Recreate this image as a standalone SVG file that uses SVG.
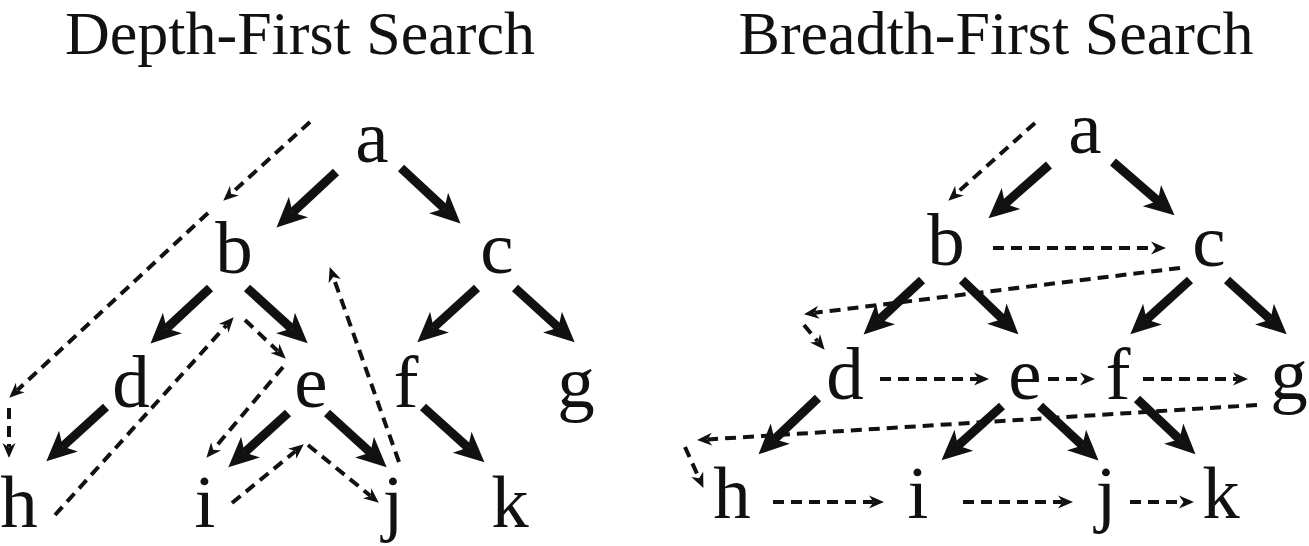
<svg xmlns="http://www.w3.org/2000/svg" width="1309" height="546" viewBox="0 0 1309 546">
<style>
text{font-family:"Liberation Serif","Times New Roman",serif;fill:#111}
.title{font-size:62px;text-anchor:middle}
.n{font-size:75px;text-anchor:middle}
.s{stroke:#111;stroke-width:9;fill:none;marker-end:url(#big)}
.d{stroke:#111;stroke-width:4;fill:none;stroke-dasharray:11 7;marker-end:url(#small)}
</style>
<defs>
<marker id="big" markerUnits="userSpaceOnUse" markerWidth="40" markerHeight="40" refX="8" refY="15" orient="auto" viewBox="0 0 40 30">
<path d="M0,1 L30,15 L0,29 L8,15 Z" fill="#111"/>
</marker>
<marker id="small" markerUnits="userSpaceOnUse" markerWidth="20" markerHeight="16" refX="4" refY="7" orient="auto" viewBox="0 0 20 14">
<path d="M0,0.5 L15,7 L0,13.5 L4.5,7 Z" fill="#111"/>
</marker>
</defs>
<text class="title" x="300" y="54">Depth-First Search</text>
<text class="title" x="996" y="54">Breadth-First Search</text>
<g id="connectors">
<line class="s" x1="336" y1="172" x2="292.6" y2="212.4"/>
<line class="s" x1="401" y1="168" x2="444.4" y2="208.4"/>
<line class="s" x1="210" y1="288" x2="166.6" y2="328.4"/>
<line class="s" x1="247" y1="288" x2="291.4" y2="328.4"/>
<line class="s" x1="477" y1="288" x2="433.6" y2="327.5"/>
<line class="s" x1="515" y1="288" x2="558.4" y2="327.5"/>
<line class="s" x1="106" y1="407" x2="62.6" y2="446.5"/>
<line class="s" x1="288" y1="413" x2="244.6" y2="452.5"/>
<line class="s" x1="327" y1="413" x2="370.4" y2="452.5"/>
<line class="s" x1="423" y1="407" x2="468.1" y2="447.6"/>
<line class="s" x1="1049" y1="165" x2="1005" y2="203.8"/>
<line class="s" x1="1113" y1="162" x2="1157.9" y2="200.9"/>
<line class="s" x1="922" y1="280" x2="879.7" y2="319.4"/>
<line class="s" x1="962" y1="280" x2="1002.6" y2="319.1"/>
<line class="s" x1="1190" y1="280" x2="1146.6" y2="319.4"/>
<line class="s" x1="1227" y1="280" x2="1270.4" y2="319.4"/>
<line class="s" x1="818" y1="398" x2="774.5" y2="439.2"/>
<line class="s" x1="1002" y1="406" x2="957.9" y2="445.6"/>
<line class="s" x1="1040" y1="406" x2="1082.4" y2="445.4"/>
<line class="s" x1="1137" y1="399" x2="1179.5" y2="439.2"/>
<line class="d" x1="310" y1="122" x2="231.4" y2="193.3"/>
<line class="d" x1="208" y1="213" x2="17.3" y2="390.2"/>
<line class="d" x1="9" y1="408" x2="9" y2="447"/>
<line class="d" x1="55" y1="515" x2="226.3" y2="325.4"/>
<line class="d" x1="245" y1="320" x2="277.8" y2="351.1"/>
<line class="d" x1="283" y1="367" x2="213.5" y2="449.4"/>
<line class="d" x1="232" y1="503" x2="295.3" y2="451.3"/>
<line class="d" x1="308" y1="445" x2="370.3" y2="495.7"/>
<line class="d" x1="399" y1="462" x2="333.4" y2="277.4"/>
<line class="d" x1="1035" y1="123" x2="956.5" y2="193.3"/>
<line class="d" x1="993" y1="248" x2="1155" y2="248"/>
<line class="d" x1="1180" y1="268" x2="814.9" y2="312.8"/>
<line class="d" x1="804" y1="325" x2="817.6" y2="341.3"/>
<line class="d" x1="880" y1="379" x2="978" y2="379"/>
<line class="d" x1="1048" y1="379" x2="1084" y2="379"/>
<line class="d" x1="1143" y1="379" x2="1237" y2="379"/>
<line class="d" x1="1257" y1="405" x2="708" y2="439.4"/>
<line class="d" x1="685" y1="447" x2="698.9" y2="477.9"/>
<line class="d" x1="773" y1="502" x2="873" y2="502"/>
<line class="d" x1="963" y1="502" x2="1062" y2="502"/>
<line class="d" x1="1130" y1="502" x2="1183" y2="502"/>
</g>
<g id="dfs-a"><text class="n" x="372" y="162">a</text></g>
<g id="dfs-b"><text class="n" x="234" y="273">b</text></g>
<g id="dfs-c"><text class="n" x="497" y="273">c</text></g>
<g id="dfs-d"><text class="n" x="131" y="407">d</text></g>
<g id="dfs-e"><text class="n" x="311" y="407">e</text></g>
<g id="dfs-f"><text class="n" x="406" y="407">f</text></g>
<g id="dfs-g"><text class="n" x="576" y="407">g</text></g>
<g id="dfs-h"><text class="n" x="19" y="527">h</text></g>
<g id="dfs-i"><text class="n" x="205" y="527">i</text></g>
<g id="dfs-j"><text class="n" x="393" y="527">j</text></g>
<g id="dfs-k"><text class="n" x="510" y="527">k</text></g>
<g id="bfs-a"><text class="n" x="1085" y="153">a</text></g>
<g id="bfs-b"><text class="n" x="946" y="265">b</text></g>
<g id="bfs-c"><text class="n" x="1209" y="266">c</text></g>
<g id="bfs-d"><text class="n" x="845" y="399">d</text></g>
<g id="bfs-e"><text class="n" x="1025" y="399">e</text></g>
<g id="bfs-f"><text class="n" x="1118" y="399">f</text></g>
<g id="bfs-g"><text class="n" x="1289" y="399">g</text></g>
<g id="bfs-h"><text class="n" x="732" y="518">h</text></g>
<g id="bfs-i"><text class="n" x="918" y="518">i</text></g>
<g id="bfs-j"><text class="n" x="1106" y="518">j</text></g>
<g id="bfs-k"><text class="n" x="1221" y="518">k</text></g>
</svg>
